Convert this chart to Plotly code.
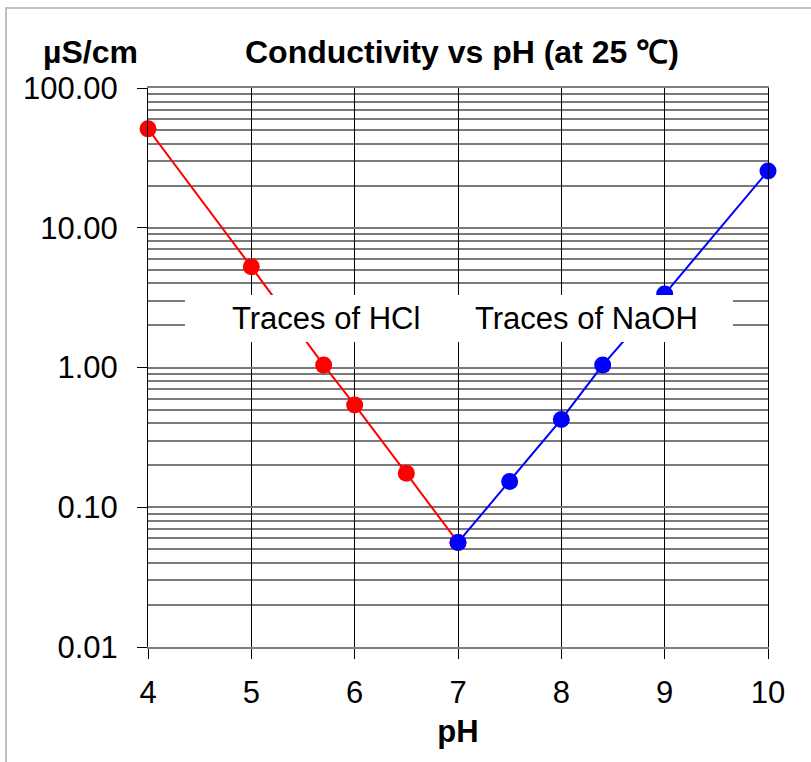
import plotly.graph_objects as go

# ---- data ----
ph_hcl = [4.0, 5.0, 5.7, 6.0, 6.5, 7.0]
cond_hcl = [51.0, 5.25, 1.04, 0.54, 0.175, 0.056]
ph_naoh = [7.0, 7.5, 8.0, 8.4, 9.0, 10.0]
cond_naoh = [0.056, 0.153, 0.425, 1.04, 3.35, 25.5]

x_ticks = [4, 5, 6, 7, 8, 9, 10]
y_tickvals = [0.01, 0.1, 1, 10, 100]
y_ticktext = ["0.01", "0.10", "1.00", "10.00", "100.00"]

title_text = "Conductivity vs pH (at 25 ℃)"
y_unit = "µS/cm"
x_title = "pH"
label_hcl = "Traces of HCl"
label_naoh = "Traces of NaOH"

FONT = "Liberation Sans, Arial, sans-serif"

W, H = 811, 762
L, R, T, B = 148, 768, 88, 647


def px(x):
    return (x - L) / (R - L)


def py(y):
    return (B - y) / (B - T)


fig = go.Figure()
fig.add_trace(go.Scatter(
    x=ph_hcl, y=cond_hcl, mode="lines+markers",
    line=dict(color="#ff0000", width=2),
    marker=dict(color="#ff0000", size=17),
    cliponaxis=False, showlegend=False))
fig.add_trace(go.Scatter(
    x=ph_naoh, y=cond_naoh, mode="lines+markers",
    line=dict(color="#0000ff", width=2),
    marker=dict(color="#0000ff", size=17),
    cliponaxis=False, showlegend=False))

fig.update_layout(
    width=W, height=H,
    margin=dict(l=L, r=W - R, t=T, b=H - B, pad=0),
    paper_bgcolor="white", plot_bgcolor="white",
    font=dict(family=FONT, size=31, color="black"),
    showlegend=False,
)

fig.update_xaxes(
    range=[4, 10], tickvals=x_ticks, ticktext=[str(v) for v in x_ticks],
    showgrid=True, gridcolor="black", gridwidth=1,
    showline=True, linecolor="#808080", linewidth=1.5, mirror=True,
    ticks="outside", ticklen=10, tickcolor="black", tickwidth=1,
    ticklabelstandoff=7, automargin=False,
    zeroline=False,
    title=dict(text="<b>" + x_title + "</b>", font=dict(size=31), standoff=11),
)
fig.update_yaxes(
    type="log", range=[-2, 2],
    tickvals=y_tickvals, ticktext=y_ticktext,
    showgrid=True, gridcolor="#7a7a7a", gridwidth=1.5,
    minor=dict(dtick="D1", showgrid=True, gridcolor="#7a7a7a", gridwidth=1.5, ticks=""),
    showline=True, linecolor="black", linewidth=1, mirror=True,
    ticks="outside", ticklen=10, tickcolor="black", tickwidth=1,
    ticklabelstandoff=13, automargin=False,
    zeroline=False,
)

# white label band (drawn above data)
fig.add_shape(type="rect", xref="paper", yref="paper",
              x0=px(185), x1=px(733), y0=py(342), y1=py(295),
              fillcolor="white", line=dict(width=0), layer="above")
# outer frame
fig.add_shape(type="rect", xref="paper", yref="paper",
              x0=px(6), x1=px(900), y0=py(900), y1=py(8),
              fillcolor="rgba(0,0,0,0)", line=dict(color="#c0c0c0", width=2),
              layer="above")

fig.add_annotation(text=label_hcl, xref="paper", yref="paper",
                   x=px(326), y=py(318), xanchor="center", yanchor="middle",
                   showarrow=False, font=dict(size=31))
fig.add_annotation(text=label_naoh, xref="paper", yref="paper",
                   x=px(586), y=py(318), xanchor="center", yanchor="middle",
                   showarrow=False, font=dict(size=31))
fig.add_annotation(text="<b>" + title_text + "</b>", xref="paper", yref="paper",
                   x=px(462), y=py(52), xanchor="center", yanchor="middle",
                   showarrow=False, font=dict(size=32))
fig.add_annotation(text="<b>" + y_unit + "</b>", xref="paper", yref="paper",
                   x=px(90), y=py(52), xanchor="center", yanchor="middle",
                   showarrow=False, font=dict(size=32))

fig.write_html("out.html")
